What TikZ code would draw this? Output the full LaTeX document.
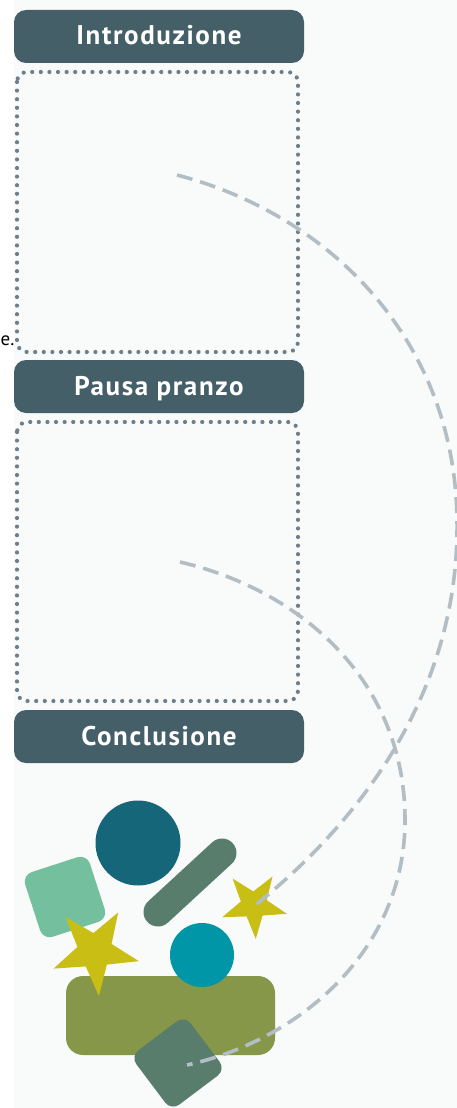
\documentclass[tikz,border=0pt]{standalone}
\usepackage{fontspec}
\newfontfamily\barfont{PT Sans}
\newfontfamily\barfontsp{PT Sans}[LetterSpace=6]
\usetikzlibrary{shapes.geometric}
\definecolor{barc}{HTML}{455F69}
\definecolor{dotc}{HTML}{6D7F8B}
\definecolor{dashc}{HTML}{B3BEC4}
\definecolor{bgc}{HTML}{F9FAFA}
\definecolor{tealdark}{HTML}{16667A}
\definecolor{mint}{HTML}{74BF9E}
\definecolor{sage}{HTML}{587D6C}
\definecolor{yel}{HTML}{C9BE14}
\definecolor{teal}{HTML}{0096A8}
\definecolor{olive}{HTML}{879749}
\tikzset{
  bar/.style={fill=barc, rounded corners=12pt},
  bartext/.style={text=white, font=\barfontsp\bfseries\fontsize{27}{32}\selectfont, anchor=base, inner sep=0pt},
  dotbox/.style={draw=dotc, line width=4.2pt, line cap=round, dash pattern=on 0pt off 8.6pt, rounded corners=10pt},
  dashline/.style={draw=dashc, line width=3.6pt, dash pattern=on 16pt off 8pt},
  ystar/.style={star, star points=5, star point ratio=2.5, fill=yel, inner sep=0pt}
}
\begin{document}
\begin{tikzpicture}[x=1pt,y=-1pt]
\useasboundingbox (0,0) rectangle (457,1108);
\fill[bgc] (14,0) rectangle (457,1108);
% side text
\node[anchor=base west, inner sep=0pt, font=\barfont\fontsize{19}{22}\selectfont] (etext) at (0.5,345) {e.};
% bars
\fill[bar] (14,10) rectangle (304,63);
\node[bartext] (intro) at (159,45) {Introduzione};
\draw[dotbox] (17,72) rectangle (298,352);
\fill[bar] (14,360) rectangle (304,413);
\node[bartext] (pausa) at (159,395) {Pausa pranzo};
\draw[dotbox] (17,422) rectangle (298,701);
\fill[bar] (14,710) rectangle (304,763);
\node[bartext] (concl) at (159,745) {Conclusione};
% shapes
\node[circle, fill=tealdark, minimum size=85pt, inner sep=0pt] (c1) at (138,843) {};
\node[rectangle, rounded corners=10pt, fill=mint, minimum size=68pt, inner sep=0pt, rotate=18] (sq1) at (65,897) {};
\coordinate (p1) at (158,912);
\coordinate (p2) at (222,853);
\draw[sage, line width=29pt, line cap=round] (p1) -- (p2);
\fill[olive, rounded corners=17pt] (66,976) rectangle (275,1055);
\node[circle, fill=teal, minimum size=64pt, inner sep=0pt] (c2) at (202,955) {};
\node[ystar, minimum size=90pt, rotate=-31] (st1) at (95,951) {};
\node[ystar, minimum size=68pt, rotate=-33] (st2) at (254,905) {};
\node[rectangle, rounded corners=10pt, fill=sage, minimum size=68pt, inner sep=0pt, rotate=37] (sq2) at (178,1063) {};
% dashed curves
\coordinate (a0) at (177,175);
\coordinate (am) at (457,520);
\coordinate (a1) at (253,907);
\draw[dashline] (a0) .. controls (330,215) and (455,340) .. (am) .. controls (460,700) and (350,830) .. (a1);
\coordinate (b0) at (180,562);
\coordinate (bm) at (405,820);
\coordinate (b1) at (187,1065);
\draw[dashline] (b0) .. controls (300,590) and (405,680) .. (bm) .. controls (405,950) and (300,1040) .. (b1);
\end{tikzpicture}
\end{document}
